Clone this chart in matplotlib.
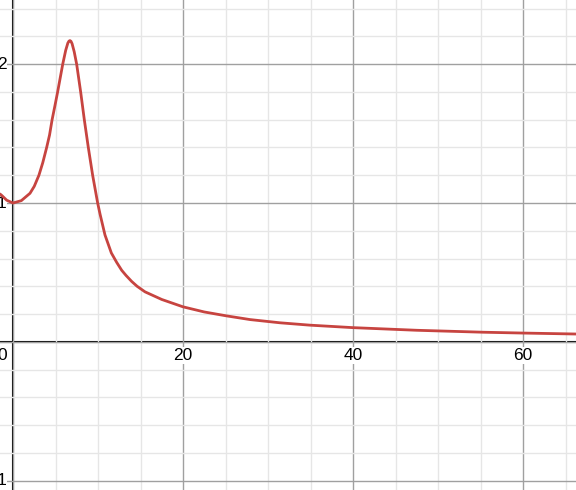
"""
Desmos-style plot of a single resonance-like curve.
"""
import numpy as np
import matplotlib
matplotlib.use("Agg")
import matplotlib.pyplot as plt
from matplotlib.ticker import MultipleLocator

# -- values --
x_vals = [-1.53, -1.33, -0.74, 0.0, 0.98, 2.0, 2.5, 3.05, 3.5, 3.96, 4.3, 4.6,
          4.93, 5.25, 5.55, 5.85, 6.2, 6.45, 6.58, 6.7, 6.82, 6.95, 7.2, 7.49,
          7.96, 8.39, 8.86, 9.37, 9.96, 10.24, 10.82, 11.57, 12.2, 12.79, 13.3,
          13.96, 14.6, 15.53, 17.5, 20.0, 22.5, 25.1, 27.9, 31.4, 34.9, 40.0,
          47.5, 55.3, 60.0, 66.3]
y_vals = [1.065, 1.055, 1.02, 1.0, 1.017, 1.07, 1.12, 1.2, 1.29, 1.4, 1.49, 1.6,
          1.7, 1.8, 1.9, 2.0, 2.1, 2.152, 2.166, 2.17, 2.165, 2.148, 2.09, 2.0,
          1.8, 1.6, 1.4, 1.2, 1.0, 0.92, 0.77, 0.64, 0.572, 0.515, 0.478,
          0.435, 0.4, 0.36, 0.305, 0.252, 0.215, 0.187, 0.16, 0.137, 0.12, 0.102,
          0.083, 0.069, 0.063, 0.056]

x_ticks = [20, 40, 60]
y_ticks = [-1, 1, 2]


def main():
    plt.rcParams['font.family'] = ['Liberation Sans', 'DejaVu Sans']

    fig = plt.figure(figsize=(5.76, 4.9), dpi=100)
    ax = fig.add_axes([0, 0, 1, 1])

    # -- view window (pixel fit of the original) --
    ax.set_xlim(-13 / 8.5, (576 - 13) / 8.5)
    ax.set_ylim(-(490 - 341.8) / 138.8, 341.8 / 138.8)

    # -- grid --
    ax.xaxis.set_major_locator(MultipleLocator(20))
    ax.xaxis.set_minor_locator(MultipleLocator(5))
    ax.yaxis.set_major_locator(MultipleLocator(1))
    ax.yaxis.set_minor_locator(MultipleLocator(0.2))
    ax.grid(which='minor', color='#e6e6e6', lw=1.0, zorder=0)
    ax.grid(which='major', color='#a0a0a0', lw=1.0, zorder=0)
    ax.tick_params(which='both', length=0, labelbottom=False, labelleft=False)
    for s in ax.spines.values():
        s.set_visible(False)

    ax.axhline(0, color='black', lw=1.5, zorder=1)
    ax.axvline(0, color='black', lw=1.5, zorder=1)

    # -- curve --
    ax.plot(x_vals, y_vals, '-', color='#c74440', lw=2.0, zorder=3,
            solid_joinstyle='round', solid_capstyle='round')

    # -- tick labels --
    box = dict(facecolor='white', edgecolor='none', pad=0.5)
    for t in x_ticks:
        ax.annotate(str(t), (t, 0), xytext=(0, -4.5), textcoords='offset points',
                    ha='center', va='top', fontsize=12.5, bbox=box, zorder=2)
    for t in y_ticks:
        lab = str(t).replace('-', '\u2212')
        ax.annotate(lab, (0, t), xytext=(-4.5, 0), textcoords='offset points',
                    ha='right', va='center', fontsize=12.5, bbox=box, zorder=2)
    ax.annotate('0', (0, 0), xytext=(-4.5, -4.5), textcoords='offset points',
                ha='right', va='top', fontsize=12.5, bbox=box, zorder=2)

    fig.savefig("out.png", dpi=100)


if __name__ == "__main__":
    main()
